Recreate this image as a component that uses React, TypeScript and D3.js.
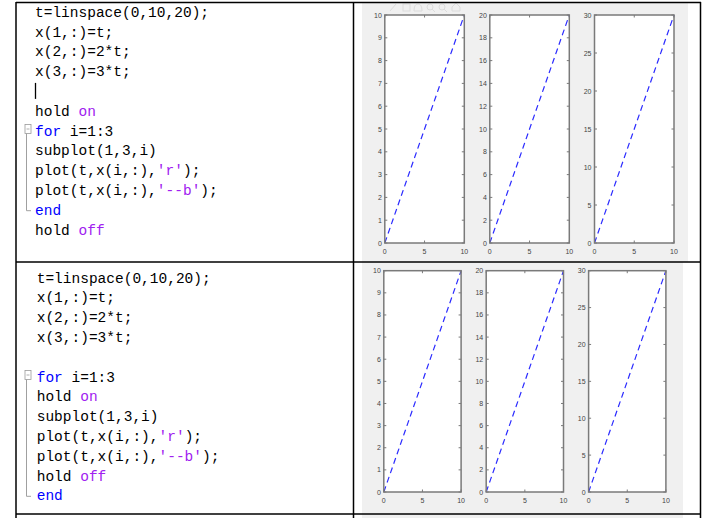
import React from "react";
import * as d3 from "d3";

// ---- data ----
const T = [0, 0.5263, 1.0526, 1.5789, 2.1053, 2.6316, 3.1579, 3.6842, 4.2105, 4.7368, 5.2632, 5.7895, 6.3158, 6.8421, 7.3684, 7.8947, 8.4211, 8.9474, 9.4737, 10];
const X1 = [0, 0.5263, 1.0526, 1.5789, 2.1053, 2.6316, 3.1579, 3.6842, 4.2105, 4.7368, 5.2632, 5.7895, 6.3158, 6.8421, 7.3684, 7.8947, 8.4211, 8.9474, 9.4737, 10];
const X2 = [0, 1.0526, 2.1053, 3.1579, 4.2105, 5.2632, 6.3158, 7.3684, 8.4211, 9.4737, 10.5263, 11.5789, 12.6316, 13.6842, 14.7368, 15.7895, 16.8421, 17.8947, 18.9474, 20];
const X3 = [0, 1.5789, 3.1579, 4.7368, 6.3158, 7.8947, 9.4737, 11.0526, 12.6316, 14.2105, 15.7895, 17.3684, 18.9474, 20.5263, 22.1053, 23.6842, 25.2632, 26.8421, 28.4211, 30];
const SERIES = [X1, X2, X3];
const Y_MAX = [10, 20, 30];
const Y_TICKS = [
  [0, 1, 2, 3, 4, 5, 6, 7, 8, 9, 10],
  [0, 2, 4, 6, 8, 10, 12, 14, 16, 18, 20],
  [0, 5, 10, 15, 20, 25, 30],
];
const X_TICKS = [0, 5, 10];

type Tok = [string, "n" | "k" | "p"];
const CODE_ROW1: Tok[][] = [
  [["t=linspace(0,10,20);", "n"]],
  [["x(1,:)=t;", "n"]],
  [["x(2,:)=2*t;", "n"]],
  [["x(3,:)=3*t;", "n"]],
  [],
  [["hold ", "n"], ["on", "p"]],
  [["for", "k"], [" i=1:3", "n"]],
  [["subplot(1,3,i)", "n"]],
  [["plot(t,x(i,:),", "n"], ["'r'", "p"], [");", "n"]],
  [["plot(t,x(i,:),", "n"], ["'--b'", "p"], [");", "n"]],
  [["end", "k"]],
  [["hold ", "n"], ["off", "p"]],
];
const CODE_ROW2: Tok[][] = [
  [["t=linspace(0,10,20);", "n"]],
  [["x(1,:)=t;", "n"]],
  [["x(2,:)=2*t;", "n"]],
  [["x(3,:)=3*t;", "n"]],
  [],
  [["for", "k"], [" i=1:3", "n"]],
  [["hold ", "n"], ["on", "p"]],
  [["subplot(1,3,i)", "n"]],
  [["plot(t,x(i,:),", "n"], ["'r'", "p"], [");", "n"]],
  [["plot(t,x(i,:),", "n"], ["'--b'", "p"], [");", "n"]],
  [["hold ", "n"], ["off", "p"]],
  [["end", "k"]],
];

// ---- layout ----
const W = 715;
const H = 518;
const COLORS = { n: "#000000", k: "#0000ff", p: "#a020f0" };
const LINE_H = 19.8;
const MONO = "'Courier New', 'Nimbus Mono PS', 'Nimbus Mono L', FreeMono, Courier, 'Liberation Mono', monospace";

type RowLayout = {
  codeX: number;
  codeBase: number;
  foldStart: number;
  foldEnd: number;
  cursorLine: number | null;
  figX0: number;
  figX1: number;
  figY0: number;
  figY1: number;
  axTop: number;
  axBottom: number;
  axLefts: number[];
  axWidth: number;
  toolbar: boolean;
};

const ROWS: { code: Tok[][]; layout: RowLayout }[] = [
  {
    code: CODE_ROW1,
    layout: {
      codeX: 35,
      codeBase: 16.7,
      foldStart: 6,
      foldEnd: 10,
      cursorLine: 4,
      figX0: 362,
      figX1: 688,
      figY0: 3,
      figY1: 262,
      axTop: 15,
      axBottom: 243,
      axLefts: [384.8, 489.8, 594.5],
      axWidth: 79.5,
      toolbar: true,
    },
  },
  {
    code: CODE_ROW2,
    layout: {
      codeX: 36.7,
      codeBase: 282.5,
      foldStart: 5,
      foldEnd: 11,
      cursorLine: null,
      figX0: 362,
      figX1: 683,
      figY0: 262,
      figY1: 518,
      axTop: 270.7,
      axBottom: 492,
      axLefts: [383.8, 486.2, 588.6],
      axWidth: 77.3,
      toolbar: false,
    },
  },
];

const AXIS_COLOR = "#7a7a7a";
const LABEL_COLOR = "#444444";

function Subplot({ left, width, top, bottom, idx }: { left: number; width: number; top: number; bottom: number; idx: number }) {
  const x = d3.scaleLinear().domain([0, 10]).range([left, left + width]);
  const y = d3.scaleLinear().domain([0, Y_MAX[idx]]).range([bottom, top]);
  const pts = T.map((t, i) => [t, SERIES[idx][i]] as [number, number]);
  const line = d3
    .line<[number, number]>()
    .x((d) => x(d[0]))
    .y((d) => y(d[1]));
  const tl = 2.5;
  return (
    <g>
      <rect x={left} y={top} width={width} height={bottom - top} fill="#ffffff" />
      <path d={line(pts) || ""} fill="none" stroke="#2b2bff" strokeWidth={1.2} strokeDasharray="6,4" />
      <rect x={left} y={top} width={width} height={bottom - top} fill="none" stroke={AXIS_COLOR} strokeWidth={1.5} />
      {Y_TICKS[idx].map((v) => (
        <g key={"y" + v}>
          <line x1={left} x2={left + tl} y1={y(v)} y2={y(v)} stroke={AXIS_COLOR} strokeWidth={1} />
          <line x1={left + width} x2={left + width - tl} y1={y(v)} y2={y(v)} stroke={AXIS_COLOR} strokeWidth={1} />
          <text
            x={left - 3}
            y={y(v)}
            textAnchor="end"
            dominantBaseline="central"
            fontFamily="Liberation Sans, Arial, sans-serif"
            fontSize={7}
            fill={LABEL_COLOR}
          >
            {v}
          </text>
        </g>
      ))}
      {X_TICKS.map((v) => (
        <g key={"x" + v}>
          <line x1={x(v)} x2={x(v)} y1={bottom} y2={bottom - tl} stroke={AXIS_COLOR} strokeWidth={1} />
          <line x1={x(v)} x2={x(v)} y1={top} y2={top + tl} stroke={AXIS_COLOR} strokeWidth={1} />
          <text
            x={x(v)}
            y={bottom + 8}
            textAnchor="middle"
            dominantBaseline="central"
            fontFamily="Liberation Sans, Arial, sans-serif"
            fontSize={7}
            fill={LABEL_COLOR}
          >
            {v}
          </text>
        </g>
      ))}
    </g>
  );
}

function Toolbar({ y }: { y: number }) {
  const c = "#dcdcdc";
  return (
    <g stroke={c} fill="none" strokeWidth={1}>
      <line x1={390} y1={y + 4} x2={396} y2={y - 3} />
      <rect x={403} y={y - 3} width={7} height={7} />
      <path d={`M414 ${y + 4} q0 -7 4 -7 q4 0 4 7 z`} />
      <circle cx={430} cy={y} r={3} />
      <line x1={432} y1={y + 2} x2={435} y2={y + 5} />
      <circle cx={442} cy={y} r={3} />
      <line x1={444} y1={y + 2} x2={447} y2={y + 5} />
      <path d={`M452 ${y} l4 -4 l4 4 v4 h-8 z`} />
    </g>
  );
}

function CodeBlock({ code, layout }: { code: Tok[][]; layout: RowLayout }) {
  const base = (i: number) => layout.codeBase + i * LINE_H;
  const fs = base(layout.foldStart);
  const fe = base(layout.foldEnd);
  return (
    <g>
      {code.map((tokens, i) => (
        <text
          key={i}
          x={layout.codeX}
          y={base(i)}
          fontFamily={MONO}
          fontSize={14.5}
          style={{ whiteSpace: "pre" }}
        >
          {tokens.map((tk, j) => (
            <tspan key={j} fill={COLORS[tk[1]]}>
              {tk[0]}
            </tspan>
          ))}
        </text>
      ))}
      {layout.cursorLine !== null && (
        <line
          x1={layout.codeX + 0.5}
          x2={layout.codeX + 0.5}
          y1={base(layout.cursorLine) - 13}
          y2={base(layout.cursorLine) + 3}
          stroke="#000"
          strokeWidth={1.3}
        />
      )}
      <rect x={25} y={fs - 11} width={6} height={9} fill="#fff" stroke="#9a9a9a" strokeWidth={0.8} />
      <line x1={26.5} x2={29.5} y1={fs - 6.5} y2={fs - 6.5} stroke="#9a9a9a" strokeWidth={0.8} />
      <path d={`M26.5 ${fs - 2} V ${fe - 4} H 31`} fill="none" stroke="#a0a0a0" strokeWidth={1} />
    </g>
  );
}

export default function App() {
  return (
    <svg
      width={W}
      height={H}
      viewBox={`0 0 ${W} ${H}`}
      style={{ position: "absolute", left: 0, top: 0, background: "#fff" }}
    >
      <rect x={0} y={0} width={W} height={H} fill="#ffffff" />
      {ROWS.map((r, ri) => (
        <g key={ri}>
          <rect
            x={r.layout.figX0}
            y={r.layout.figY0}
            width={r.layout.figX1 - r.layout.figX0}
            height={r.layout.figY1 - r.layout.figY0}
            fill="#f0f0f0"
          />
          {r.layout.toolbar && <Toolbar y={7} />}
          {r.layout.axLefts.map((l, i) => (
            <Subplot key={i} idx={i} left={l} width={r.layout.axWidth} top={r.layout.axTop} bottom={r.layout.axBottom} />
          ))}
          <CodeBlock code={r.code} layout={r.layout} />
        </g>
      ))}
      {/* table borders */}
      <g stroke="#000" strokeWidth={1.5}>
        <line x1={16} x2={701} y1={2.5} y2={2.5} />
        <line x1={16} x2={701} y1={262} y2={262} />
        <line x1={16} x2={701} y1={514} y2={514} />
        <line x1={16} x2={16} y1={2} y2={518} />
        <line x1={353.5} x2={353.5} y1={2} y2={518} />
        <line x1={700.5} x2={700.5} y1={2} y2={518} />
      </g>
    </svg>
  );
}
